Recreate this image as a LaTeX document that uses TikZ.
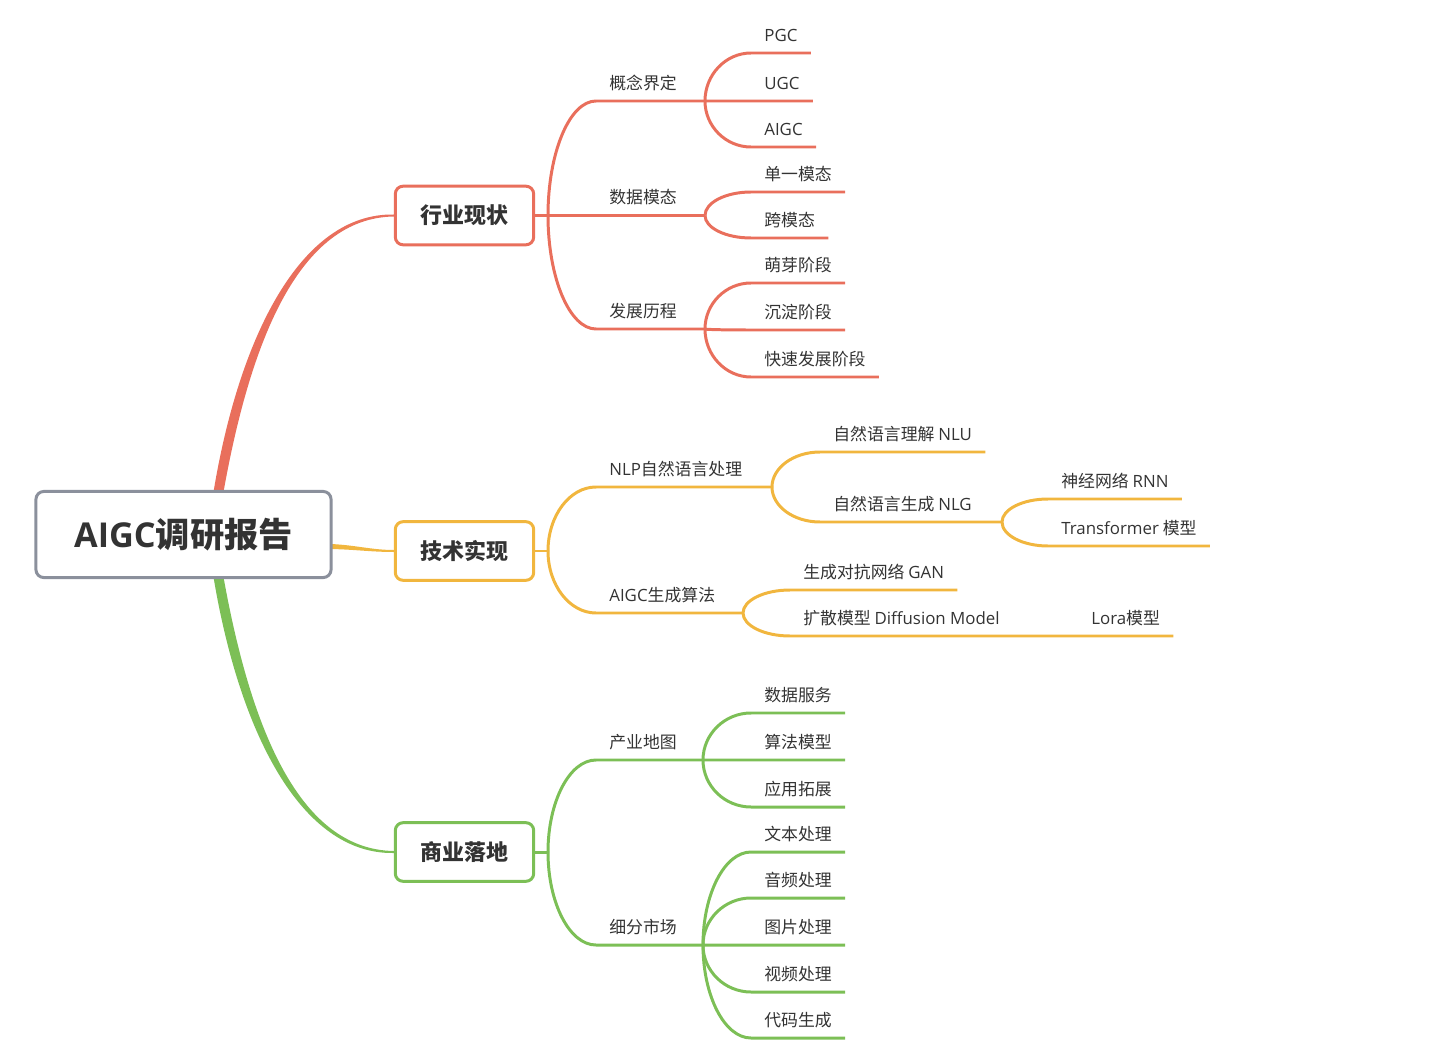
\documentclass[tikz,border=0pt]{standalone}
\usepackage{fontspec}
\setmainfont{Noto Sans CJK SC}
\newfontfamily\osans{Open Sans}
\newcommand{\en}[1]{{\osans #1}}
\usepackage{tikz}
\usetikzlibrary{calc,backgrounds}
\definecolor{redbr}{RGB}{233,111,92}
\definecolor{yelbr}{RGB}{241,182,62}
\definecolor{grnbr}{RGB}{124,191,86}
\definecolor{rootgray}{RGB}{139,144,156}
\definecolor{txt}{RGB}{51,51,51}

\begin{document}
\begin{tikzpicture}[x=0.02cm, y=-0.02cm, text=txt,
    rootbox/.style={draw=rootgray, line width=1.7pt, rounded corners=4.5pt, fill=white,
      minimum width=168pt, minimum height=49pt, font=\fontsize{19.5}{23}\selectfont\bfseries},
    topic/.style={draw=#1, line width=1.7pt, rounded corners=4.5pt, fill=white,
      minimum width=78.8pt, minimum height=33.4pt, font=\fontsize{12.5}{15}\selectfont\bfseries},
    subt/.style={anchor=south west, inner xsep=7.4pt, inner ysep=6.5pt, text depth=0pt,
      font=\fontsize{9.6}{11}\selectfont},
    curvy/.style={to path={.. controls ($(\tikztostart)!0.55!(\tikztostart|-\tikztotarget)$)
      and ($(\tikztotarget)!0.55!(\tikztostart|-\tikztotarget)$) .. (\tikztotarget)}},
    br/.style={draw=#1, line width=1.7pt}]
    \useasboundingbox (0,0) rectangle (1440,1054);
    % central topic and main topics
    \node[rootbox] (root) at (183.5,534.5) {\en{AIGC}调研报告};
    \node[topic=redbr] (hyxz) at (464.5,215.5) {行业现状};
    \node[topic=yelbr] (jssx) at (464.5,551) {技术实现};
    \node[topic=grnbr] (syld) at (464.5,852) {商业落地};
    % tapered main branches, under the boxes
    \coordinate (r0) at ($(root.north)+(35,2)$);
    \coordinate (y0) at ($(root.east)+(-2,12)$);
    \coordinate (g0) at ($(root.south)+(35,-2)$);
    \begin{scope}[on background layer]
      \fill[redbr] ($(r0)+(-5,0)$) .. controls (239,338) and (300,213) .. ($(hyxz.west)+(0,-1)$)
        -- ($(hyxz.west)+(0,1)$) .. controls (300,218) and (251,338) .. ($(r0)+(5,0)$) -- cycle;
      \fill[yelbr] ($(y0)+(0,-2.5)$) .. controls (355,545) and (372,550) .. ($(jssx.west)+(0,-1)$)
        -- ($(jssx.west)+(0,1)$) .. controls (372,552) and (355,549.5) .. ($(y0)+(0,2.5)$) -- cycle;
      \fill[grnbr] ($(g0)+(-5,0)$) .. controls (239,730) and (300,854.5) .. ($(syld.west)+(0,1)$)
        -- ($(syld.west)+(0,-1)$) .. controls (300,849.5) and (251,730) .. ($(g0)+(5,0)$) -- cycle;
    \end{scope}
    % junctions
    \coordinate (j1) at (548,215.5);
    \coordinate (ja) at (705,101);
    \coordinate (jb) at (705,215.5);
    \coordinate (jc) at (705,329);
    \coordinate (j2) at (548,551);
    \coordinate (jd) at (772,487);
    \coordinate (je) at (743,613);
    \coordinate (jf) at (1002,522);
    \coordinate (j3) at (548,852);
    \coordinate (jg) at (703,760);
    \coordinate (jh) at (703,945);
    % 行业现状
    \node[subt] (gnjd) at (596,101) {概念界定};
    \node[subt] (sjmt) at (596,215.5) {数据模态};
    \node[subt] (fzlc) at (596,329) {发展历程};
    \node[subt] (pgc) at (751,53) {\en{PGC}};
    \node[subt] (ugc) at (751,101) {\en{UGC}};
    \node[subt] (aigc) at (751,147) {\en{AIGC}};
    \node[subt] (dymt) at (751,192) {单一模态};
    \node[subt] (kmt) at (751,238) {跨模态};
    \node[subt] (myjd) at (751,283) {萌芽阶段};
    \node[subt] (cdjd) at (751,330) {沉淀阶段};
    \node[subt] (ksfz) at (751,377) {快速发展阶段};
    \draw[br=redbr] (hyxz.east) -- (j1);
    \draw[br=redbr] (j1) to[curvy] (gnjd.south west) -- (ja);
    \draw[br=redbr] (j1) to[curvy] (sjmt.south west) -- (jb);
    \draw[br=redbr] (j1) to[curvy] (fzlc.south west) -- (jc);
    \draw[br=redbr] (ja) to[curvy] (pgc.south west) -- (pgc.south east);
    \draw[br=redbr] (ja) to[curvy] (ugc.south west) -- (ugc.south east);
    \draw[br=redbr] (ja) to[curvy] (aigc.south west) -- (aigc.south east);
    \draw[br=redbr] (jb) to[curvy] (dymt.south west) -- (dymt.south east);
    \draw[br=redbr] (jb) to[curvy] (kmt.south west) -- (kmt.south east);
    \draw[br=redbr] (jc) to[curvy] (myjd.south west) -- (myjd.south east);
    \draw[br=redbr] (jc) to[curvy] (cdjd.south west) -- (cdjd.south east);
    \draw[br=redbr] (jc) to[curvy] (ksfz.south west) -- (ksfz.south east);
    % 技术实现
    \node[subt] (nlp) at (596,487) {\en{NLP}自然语言处理};
    \node[subt] (scsf) at (596,613) {\en{AIGC}生成算法};
    \node[subt] (nlu) at (820,452) {自然语言理解 \en{NLU}};
    \node[subt] (nlg) at (820,522) {自然语言生成 \en{NLG}};
    \node[subt] (rnn) at (1048,499) {神经网络 \en{RNN}};
    \node[subt] (trans) at (1048,546) {\en{Transformer} 模型};
    \node[subt] (gan) at (790,590) {生成对抗网络 \en{GAN}};
    \node[subt] (diff) at (790,636) {扩散模型 \en{Diffusion Model}};
    \node[subt] (lora) at (1078,636) {\en{Lora}模型};
    \draw[br=yelbr] (jssx.east) -- (j2);
    \draw[br=yelbr] (j2) to[curvy] (nlp.south west) -- (jd);
    \draw[br=yelbr] (j2) to[curvy] (scsf.south west) -- (je);
    \draw[br=yelbr] (jd) to[curvy] (nlu.south west) -- (nlu.south east);
    \draw[br=yelbr] (jd) to[curvy] (nlg.south west) -- (jf);
    \draw[br=yelbr] (jf) to[curvy] (rnn.south west) -- (rnn.south east);
    \draw[br=yelbr] (jf) to[curvy] (trans.south west) -- (trans.south east);
    \draw[br=yelbr] (je) to[curvy] (gan.south west) -- (gan.south east);
    \draw[br=yelbr] (je) to[curvy] (diff.south west) -- (lora.south west) -- (lora.south east);
    % 商业落地
    \node[subt] (cydt) at (596,760) {产业地图};
    \node[subt] (xfsc) at (596,945) {细分市场};
    \node[subt] (sjfw) at (751,713) {数据服务};
    \node[subt] (sfmx) at (751,760) {算法模型};
    \node[subt] (yytz) at (751,807) {应用拓展};
    \node[subt] (wbcl) at (751,852) {文本处理};
    \node[subt] (ypcl) at (751,898) {音频处理};
    \node[subt] (tpcl) at (751,945) {图片处理};
    \node[subt] (spcl) at (751,992) {视频处理};
    \node[subt] (dmsc) at (751,1038) {代码生成};
    \draw[br=grnbr] (syld.east) -- (j3);
    \draw[br=grnbr] (j3) to[curvy] (cydt.south west) -- (jg);
    \draw[br=grnbr] (j3) to[curvy] (xfsc.south west) -- (jh);
    \draw[br=grnbr] (jg) to[curvy] (sjfw.south west) -- (sjfw.south east);
    \draw[br=grnbr] (jg) to[curvy] (sfmx.south west) -- (sfmx.south east);
    \draw[br=grnbr] (jg) to[curvy] (yytz.south west) -- (yytz.south east);
    \draw[br=grnbr] (jh) to[curvy] (wbcl.south west) -- (wbcl.south east);
    \draw[br=grnbr] (jh) to[curvy] (ypcl.south west) -- (ypcl.south east);
    \draw[br=grnbr] (jh) to[curvy] (tpcl.south west) -- (tpcl.south east);
    \draw[br=grnbr] (jh) to[curvy] (spcl.south west) -- (spcl.south east);
    \draw[br=grnbr] (jh) to[curvy] (dmsc.south west) -- (dmsc.south east);
\end{tikzpicture}
\end{document}
